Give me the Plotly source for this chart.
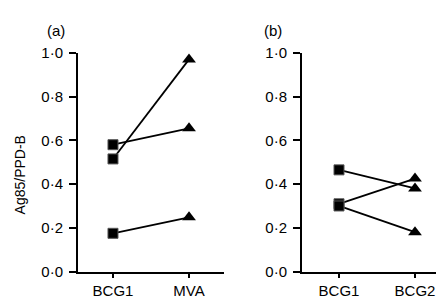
import plotly.graph_objects as go

# Panel (a)
a_categories = ["BCG1", "MVA"]
a_pairs = [[0.515, 0.97], [0.58, 0.655], [0.175, 0.248]]
# Panel (b)
b_categories = ["BCG1", "BCG2"]
b_pairs = [[0.465, 0.38], [0.31, 0.425], [0.30, 0.18]]

y_ticks = [0.0, 0.2, 0.4, 0.6, 0.8, 1.0]
y_ticktext = ["0·0", "0·2", "0·4", "0·6", "0·8", "1·0"]
y_title = "Ag85/PPD-B"
panel_labels = ["(a)", "(b)"]

FONT = "Liberation Sans, Arial, sans-serif"
W, H = 444, 298

fig = go.Figure()

def add_panel(cats, pairs, xa, ya):
    for p in pairs:
        fig.add_trace(go.Scatter(
            x=cats, y=p, xaxis=xa, yaxis=ya, mode="lines",
            line=dict(color="black", width=1.8), showlegend=False,
            hoverinfo="skip", cliponaxis=False))
    for p in pairs:
        fig.add_trace(go.Scatter(
            x=[cats[0]], y=[p[0]], xaxis=xa, yaxis=ya, mode="markers",
            marker=dict(symbol="square", size=10, color="black",
                        line=dict(color="#555", width=1)),
            showlegend=False, cliponaxis=False))
        fig.add_trace(go.Scatter(
            x=[cats[1]], y=[p[1]], xaxis=xa, yaxis=ya, mode="markers",
            marker=dict(symbol="triangle-up", size=12, color="black",
                        line=dict(color="black", width=0)),
            showlegend=False, cliponaxis=False))

add_panel(a_categories, a_pairs, "x", "y")
add_panel(b_categories, b_pairs, "x2", "y2")

ydom = [(H - 270) / H, (H - 38) / H]

xcommon = dict(type="category", showline=True, linecolor="black", linewidth=2,
               ticks="outside", ticklen=4, tickwidth=2, tickcolor="black",
               showgrid=False, zeroline=False,
               tickfont=dict(family=FONT, size=15, color="black"))
ycommon = dict(range=[0, 1.0], tickvals=y_ticks, ticktext=y_ticktext,
               showline=True, linecolor="black", linewidth=2,
               ticks="outside", ticklen=7, tickwidth=2, tickcolor="black",
               ticklabelstandoff=3,
               showgrid=False, zeroline=False, domain=ydom,
               tickfont=dict(family=FONT, size=15, color="black"))

fig.update_layout(
    width=W, height=H,
    margin=dict(l=0, r=0, t=0, b=0),
    paper_bgcolor="white", plot_bgcolor="white",
    xaxis=dict(domain=[70 / W, 216 / W], range=[-0.46, 1.46], anchor="y", **xcommon),
    yaxis=dict(anchor="x", **ycommon),
    xaxis2=dict(domain=[294 / W, 1.0], range=[-0.487, 1.487], anchor="y2", **xcommon),
    yaxis2=dict(anchor="x2", **ycommon),
    annotations=[
        dict(text=y_title, x=12 / W, y=(H - 168) / H, xref="paper", yref="paper",
             textangle=-90, showarrow=False, xanchor="center", yanchor="middle",
             font=dict(family=FONT, size=14, color="black")),
        dict(text=panel_labels[0], x=48 / W, y=(H - 14) / H, xref="paper", yref="paper",
             showarrow=False, xanchor="center", yanchor="middle",
             font=dict(family=FONT, size=15, color="black")),
        dict(text=panel_labels[1], x=265 / W, y=(H - 14) / H, xref="paper", yref="paper",
             showarrow=False, xanchor="center", yanchor="middle",
             font=dict(family=FONT, size=15, color="black")),
    ],
)

fig.write_html("out.html")
